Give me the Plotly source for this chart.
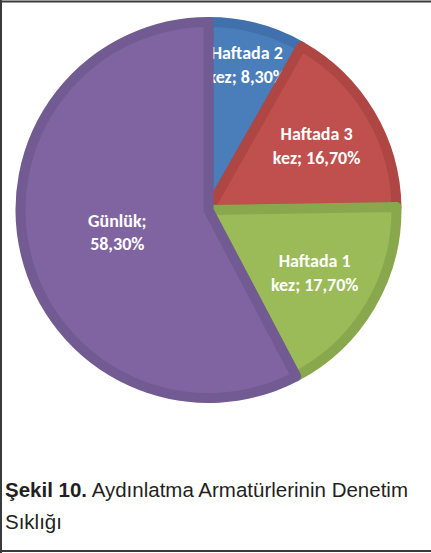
import plotly.graph_objects as go

# slice data, clockwise from 12 o'clock
labels = ["Haftada 2 kez", "Haftada 3 kez", "Haftada 1 kez", "Günlük"]
values = [8.3, 16.7, 17.7, 58.3]
fill_colors = ["#4a7ebb", "#c0504d", "#9bbb59", "#8064a2"]
edge_colors = ["#4171ad", "#ae4744", "#89a74d", "#725a92"]

caption_bold = "Şekil 10."
caption_rest = "Aydınlatma Armatürlerinin Denetim"
caption_line2 = "Sıklığı"

W, H = 431, 553


def label_text(lab, val):
    num = f"{val:.2f}".replace(".", ",") + "%"
    if lab.endswith(" kez"):
        return lab[:-4] + "<br>kez; " + num
    return lab + ";<br>" + num


texts = [label_text(l, v) for l, v in zip(labels, values)]

# pie centre / radius in pixels
cx, cy, r = 208.5, 210, 188
dom_x = [(cx - r) / W, (cx + r) / W]
dom_y = [(H - cy - r) / H, (H - cy + r) / H]

fig = go.Figure()
fig.add_trace(go.Pie(
    labels=labels,
    values=values,
    text=texts,
    textinfo="text",
    textposition="inside",
    insidetextorientation="horizontal",
    textfont=dict(family="Carlito, Lato, sans-serif", size=18, color="white", weight="bold"),
    sort=False,
    direction="clockwise",
    rotation=0,
    marker=dict(colors=fill_colors, line=dict(color=edge_colors, width=10)),
    domain=dict(x=dom_x, y=dom_y),
    showlegend=False,
    hoverinfo="label+percent",
))

cap_font = dict(family="Liberation Sans, Arial, sans-serif", size=20.5, color="#231f20")
fig.add_annotation(
    x=3 / W, y=1 - 490 / H, xref="paper", yref="paper",
    xanchor="left", yanchor="middle", showarrow=False,
    text=f"<b>{caption_bold}</b> {caption_rest}", font=cap_font,
)
fig.add_annotation(
    x=3 / W, y=1 - 521 / H, xref="paper", yref="paper",
    xanchor="left", yanchor="middle", showarrow=False,
    text=caption_line2, font=cap_font,
)

# frame (top, left, bottom; no right edge)
frame = dict(type="line", xref="paper", yref="paper", line=dict(color="#3a3a3a", width=2))
fig.add_shape(x0=0, x1=1, y0=1 - 1.5 / H, y1=1 - 1.5 / H, **frame)
fig.add_shape(x0=1 / W, x1=1 / W, y0=0, y1=1, **frame)
fig.add_shape(x0=0, x1=1, y0=1 - 551 / H, y1=1 - 551 / H, **frame)

fig.update_layout(
    width=W, height=H,
    margin=dict(l=0, r=0, t=0, b=0),
    paper_bgcolor="white",
    plot_bgcolor="white",
    uniformtext=dict(minsize=18, mode="show"),
)

fig.write_html(
    "out.html",
    config={"displayModeBar": False},
    post_script="document.body.style.margin='0';document.body.style.overflow='hidden';",
)
